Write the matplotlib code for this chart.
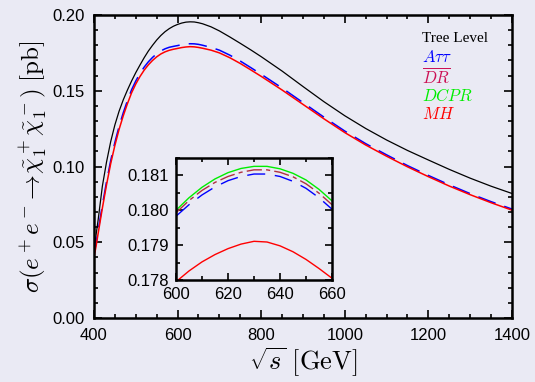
import numpy as np
import matplotlib
matplotlib.use("Agg")
import matplotlib.pyplot as plt
from matplotlib.ticker import MultipleLocator

# Cross section vs sqrt(s)
sqrt_s = [400, 405, 410, 420, 430, 440, 450, 460, 470, 480, 490, 500, 510, 520, 530,
          540, 550, 560, 570, 580, 590, 600, 610, 620, 630, 640, 650, 660, 680, 700,
          725, 750, 775, 800, 850, 900, 950, 1000, 1050, 1100, 1150, 1200, 1250, 1300,
          1350, 1400]
tree = [0.0440, 0.0550, 0.0650, 0.0870, 0.1030, 0.1165, 0.1275, 0.1365, 0.1440, 0.1505,
        0.1565, 0.1620, 0.1670, 0.1718, 0.1762, 0.1800, 0.1835, 0.1865, 0.1890, 0.1910,
        0.1926, 0.1938, 0.1947, 0.1953, 0.1955, 0.1954, 0.1949, 0.1942, 0.1922, 0.1895,
        0.1855, 0.1813, 0.1770, 0.1725, 0.1630, 0.1528, 0.1428, 0.1335, 0.1251, 0.1175,
        0.1106, 0.1043, 0.0981, 0.0923, 0.0870, 0.0822]
mh = [0.0400, 0.0475, 0.0560, 0.0725, 0.0880, 0.1020, 0.1140, 0.1245, 0.1335, 0.1415,
      0.1487, 0.1545, 0.1594, 0.1636, 0.1671, 0.1700, 0.1724, 0.1743, 0.1757, 0.1767,
      0.1774, 0.17795, 0.17852, 0.17890, 0.17911, 0.17898, 0.17859, 0.17805, 0.1768, 0.1750,
      0.1718, 0.1680, 0.1638, 0.1595, 0.1505, 0.1410, 0.1315, 0.1224, 0.1142, 0.1068,
      0.0998, 0.0933, 0.0871, 0.0814, 0.0761, 0.0712]
att = [0.0420, 0.0495, 0.0580, 0.0745, 0.0900, 0.1040, 0.1160, 0.1265, 0.1355, 0.1435,
       0.1507, 0.1565, 0.1614, 0.1656, 0.1691, 0.1720, 0.1744, 0.1763, 0.1777, 0.1787,
       0.1793, 0.17983, 0.18044, 0.18085, 0.18104, 0.18097, 0.18063, 0.18003, 0.1786, 0.1768,
       0.1735, 0.1696, 0.1653, 0.1609, 0.1518, 0.1422, 0.1326, 0.1234, 0.1151, 0.1077,
       0.1006, 0.0941, 0.0879, 0.0821, 0.0768, 0.0719]

# Zoomed region
sqrt_s_zoom = [600, 605, 610, 615, 620, 625, 630, 635, 640, 645, 650, 655, 660]
att_zoom = [0.17983, 0.18016, 0.18044, 0.18067, 0.18085, 0.18097, 0.18104, 0.18104,
            0.18097, 0.18083, 0.18063, 0.18036, 0.18003]
dr_zoom = [0.17993, 0.18028, 0.18057, 0.18080, 0.18097, 0.18109, 0.18116, 0.18116,
           0.18109, 0.18096, 0.18076, 0.18049, 0.18016]
dcpr_zoom = [0.18000, 0.18036, 0.18066, 0.18090, 0.18108, 0.18120, 0.18126, 0.18126,
             0.18119, 0.18106, 0.18087, 0.18060, 0.18027]
mh_zoom = [0.17795, 0.17826, 0.17852, 0.17873, 0.17890, 0.17903, 0.17911, 0.17909,
           0.17898, 0.17881, 0.17859, 0.17833, 0.17805]

labels = ["Tree Level", r"$A\tau\tau$", r"$\overline{DR}$", r"$DCPR$", r"$MH$"]
label_colors = ["black", "blue", "#cc1155", "#00ee00", "red"]

plt.rcParams["mathtext.fontset"] = "cm"
plt.rcParams["font.family"] = ["Liberation Sans", "DejaVu Sans"]
bg = "#eaeaf4"

fig = plt.figure(figsize=(5.35, 3.82), dpi=100, facecolor=bg)
ax = fig.add_axes([0.1757, 0.1675, 0.7813, 0.7932], facecolor=bg)

ax.plot(sqrt_s, tree, color="black", lw=0.9)
ax.plot(sqrt_s, att, color="blue", lw=1.1, dashes=(12, 6))
ax.plot(sqrt_s, mh, color="red", lw=1.1)

ax.set_xlim(400, 1400)
ax.set_ylim(0.0, 0.2)
ax.xaxis.set_major_locator(MultipleLocator(200))
ax.xaxis.set_minor_locator(MultipleLocator(50))
ax.yaxis.set_major_locator(MultipleLocator(0.05))
ax.yaxis.set_minor_locator(MultipleLocator(0.01))
ax.yaxis.set_major_formatter(plt.FormatStrFormatter("%.2f"))
ax.tick_params(which="both", direction="in", top=True, right=True, labelsize=12, width=1.2)
ax.tick_params(which="major", length=6, pad=7)
ax.tick_params(which="minor", length=3)
for s in ax.spines.values():
    s.set_linewidth(1.8)

ax.set_xlabel(r"$\sqrt{s}\ [\mathrm{GeV}]$", fontsize=19, labelpad=2)
ax.set_ylabel(r"$\sigma(e^+e^-\!\to\!\tilde{\chi}_1^+\tilde{\chi}_1^-)\;[\mathrm{pb}]$",
              fontsize=18, labelpad=3)

# text legend
for i, (lab, col) in enumerate(zip(labels, label_colors)):
    if i == 0:
        ax.text(0.785, 0.923 - i * 0.0625, lab, color=col, transform=ax.transAxes,
                fontsize=11, family="Liberation Serif", va="center")
    else:
        ax.text(0.785, 0.923 - i * 0.0625, lab, color=col, transform=ax.transAxes,
                fontsize=12, va="center")

# inset
axin = fig.add_axes([0.329, 0.267, 0.2916, 0.3194], facecolor=bg)
axin.plot(sqrt_s_zoom, dcpr_zoom, color="#00ee00", lw=1.0)
axin.plot(sqrt_s_zoom, dr_zoom, color="#b03040", lw=1.0, dashes=(11, 3, 3, 3))
axin.plot(sqrt_s_zoom, att_zoom, color="blue", lw=1.0, dashes=(13, 7))
axin.plot(sqrt_s_zoom, mh_zoom, color="red", lw=1.0)
axin.set_xlim(600, 660)
axin.set_ylim(0.178, 0.1815)
axin.xaxis.set_major_locator(MultipleLocator(20))
axin.xaxis.set_minor_locator(MultipleLocator(10))
axin.yaxis.set_major_locator(MultipleLocator(0.001))
axin.yaxis.set_minor_locator(MultipleLocator(0.0005))
axin.yaxis.set_major_formatter(plt.FormatStrFormatter("%.3f"))
axin.tick_params(which="both", direction="in", top=True, right=True, labelsize=12, width=1.2)
axin.tick_params(which="major", length=5, pad=5)
axin.tick_params(which="minor", length=3)
for s in axin.spines.values():
    s.set_linewidth(1.8)

fig.savefig("out.png", dpi=100, facecolor=bg)
